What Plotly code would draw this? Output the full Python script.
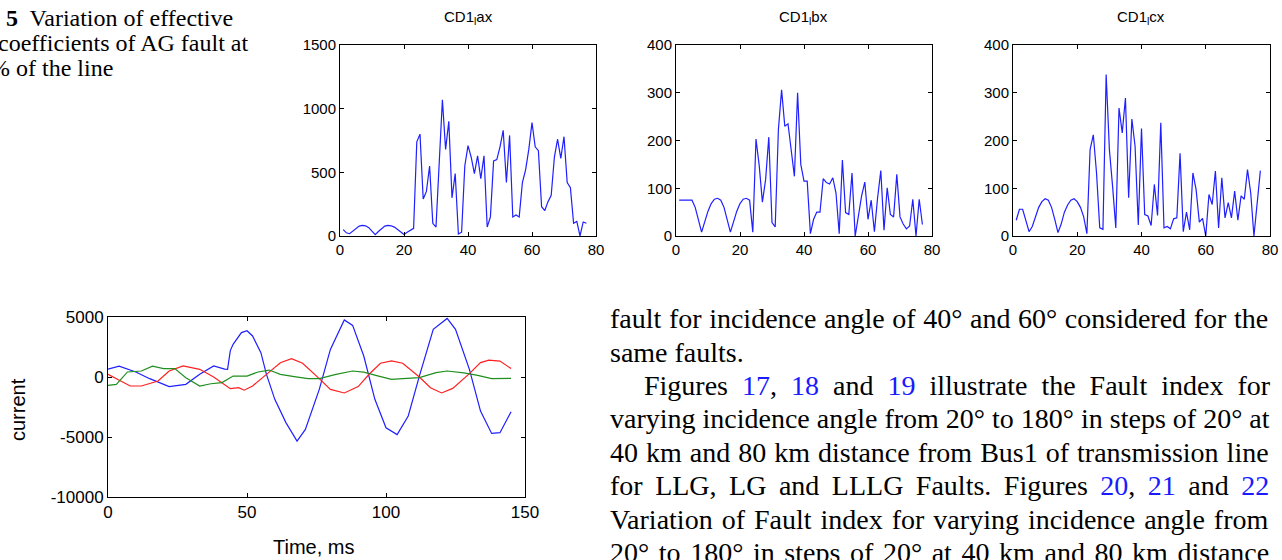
import plotly.graph_objects as go

# ---------------- data ----------------
samples = list(range(1, 78))

cd1_ax = [50, 25, 18, 40, 62, 78, 84, 80, 65, 40, 10, 35, 60, 78, 84, 80, 70, 50, 28, 12,
          30, 45, 60, 740, 800, 290, 350, 550, 100, 70, 560, 1070, 680, 900, 300, 490, 15, 30,
          550, 710, 620, 490, 630, 450, 630, 70, 150, 590, 600, 700, 830, 420, 790, 150, 165,
          150, 420, 520, 680, 890, 700, 670, 230, 200, 270, 320, 620, 760, 610, 780, 420, 380,
          100, 115, 0, 110, 100]

cd1_bx = [75, 75, 75, 75, 75, 60, 35, 8, 30, 52, 68, 77, 79, 75, 60, 35, 8, 30, 52, 68,
          77, 79, 75, 8, 203, 148, 71, 118, 207, 28, 19, 223, 306, 230, 235, 180, 125, 300,
          150, 115, 115, 5, 35, 50, 50, 120, 112, 109, 122, 90, 5, 159, 49, 45, 132, 0, 45,
          84, 113, 35, 75, 9, 80, 137, 12, 101, 45, 40, 129, 40, 25, 15, 21, 77, 0, 77, 24]

cd1_cx = [33, 56, 56, 35, 9, 20, 40, 60, 72, 78, 75, 60, 35, 7, 25, 50, 65, 75, 78, 72,
          60, 40, 5, 181, 212, 132, 17, 14, 338, 181, 104, 17, 268, 216, 289, 80, 245, 188,
          23, 225, 45, 42, 22, 108, 43, 237, 17, 20, 15, 36, 38, 173, 9, 50, 13, 132, 97, 29,
          37, 0, 87, 66, 136, 17, 122, 38, 70, 38, 94, 33, 84, 77, 139, 90, 0, 70, 137]

t_a = [0, 4, 10, 15, 22, 28, 33, 38, 42, 43, 44, 45, 48, 50, 52, 55, 57, 60, 64, 68, 71, 76,
       80, 85, 88, 92, 96, 100, 104, 108, 112, 117, 122, 125, 130, 134, 138, 141, 145]
i_a = [650, 900, 420, -140, -800, -610, 220, 920, 650, 640, 2200, 2720, 3700, 3850, 3420,
       2030, 220, -1860, -3800, -5340, -4370, -1030, 2300, 4750, 4300, 1750, -1860, -4230,
       -4800, -3250, 80, 3970, 4880, 3970, 640, -2840, -4700, -4640, -2890]

t_b = [0, 3, 8, 12, 18, 22, 27, 33, 38, 44, 47, 49, 52, 57, 62, 66, 70, 76, 80, 85, 90, 94,
       98, 102, 106, 112, 116, 120, 124, 130, 134, 137, 141, 145]
i_b = [220, -140, -750, -750, -330, 500, 920, 640, 0, -970, -890, -1100, -750, 220, 1190,
       1530, 1140, -140, -1030, -1330, -800, 250, 1150, 1350, 1150, 0, -900, -1330, -950,
       280, 1200, 1400, 1330, 700]

t_c = [0, 3, 7, 12, 16, 20, 24, 28, 33, 37, 41, 45, 50, 54, 58, 62, 67, 72, 76, 82, 88, 92,
       97, 102, 106, 112, 118, 122, 128, 133, 138, 145]
i_c = [-700, -610, 420, 500, 900, 700, 700, -55, -750, -560, -470, 80, 80, 420, 580, 220,
       30, -140, -140, 220, 500, 400, 100, -190, -140, -50, 360, 500, 350, 140, -140, -110]

top_titles = ["CD1<sub>l</sub>ax", "CD1<sub>l</sub>bx", "CD1<sub>l</sub>cx"]
top_xticks = [0, 20, 40, 60, 80]
yticks_a = [0, 500, 1000, 1500]
yticks_bc = [0, 100, 200, 300, 400]
bottom_xticks = [0, 50, 100, 150]
bottom_yticks = [-10000, -5000, 0, 5000]
bottom_yticklabels = ["-10000", "-5000", "0", "5000"]

# ---------------- layout helpers ----------------
W, H = 1282, 560
def px(x):
    return x / W
def py(y):
    return 1 - y / H

NARROW = "Liberation Sans Narrow, Arial Narrow, Liberation Sans, Arial, sans-serif"
SANS = "Liberation Sans, Arial, sans-serif"
SERIF = "Liberation Serif, Times New Roman, serif"
BLUE = "#1f1fff"

fig = go.Figure()

tops = [(cd1_ax, 340, 596, [0, 1500], yticks_a),
        (cd1_bx, 676, 932, [0, 400], yticks_bc),
        (cd1_cx, 1013, 1270, [0, 400], yticks_bc)]

axis_common = dict(showline=True, linecolor="black", linewidth=1, mirror="ticks",
                   ticks="inside", ticklen=4, tickcolor="black", showgrid=False,
                   zeroline=False)

layout = dict(width=W, height=H, margin=dict(l=0, r=0, t=0, b=0, autoexpand=False),
              paper_bgcolor="white", plot_bgcolor="white", showlegend=False)

for k, (vals, x0, x1, yr, yt) in enumerate(tops):
    n = k + 1
    xa = "x" if n == 1 else f"x{n}"
    ya = "y" if n == 1 else f"y{n}"
    fig.add_trace(go.Scatter(x=samples, y=vals, xaxis=xa, yaxis=ya, mode="lines",
                             line=dict(color=BLUE, width=1.2)))
    layout["xaxis" if n == 1 else f"xaxis{n}"] = dict(
        domain=[px(x0), px(x1)], anchor=ya, range=[0, 80], tickvals=top_xticks,
        tickfont=dict(family=NARROW, size=15, color="black"), **axis_common)
    layout["yaxis" if n == 1 else f"yaxis{n}"] = dict(
        domain=[py(236), py(45)], anchor=xa, range=yr, tickvals=yt,
        tickfont=dict(family=NARROW, size=15, color="black"), **axis_common)

# bottom plot
for t, v, c in [(t_a, i_a, "#1f1fff"), (t_b, i_b, "#ff1f1f"), (t_c, i_c, "#1f8f1f")]:
    fig.add_trace(go.Scatter(x=t, y=v, xaxis="x4", yaxis="y4", mode="lines",
                             line=dict(color=c, width=1.2)))
layout["xaxis4"] = dict(domain=[px(108), px(525)], anchor="y4", range=[0, 150],
                        tickvals=bottom_xticks,
                        tickfont=dict(family=SANS, size=17, color="black"), **axis_common)
layout["yaxis4"] = dict(domain=[py(497), py(317)], anchor="x4", range=[-10000, 5000],
                        tickvals=bottom_yticks, ticktext=bottom_yticklabels,
                        tickfont=dict(family=SANS, size=17, color="black"), **axis_common)

annotations = []
centers = [468, 804, 1141]
for title, cx in zip(top_titles, centers):
    annotations.append(dict(text=title, x=px(cx), y=py(17), xref="paper", yref="paper",
                            showarrow=False, xanchor="center", yanchor="middle",
                            font=dict(family=NARROW, size=15, color="black")))

annotations.append(dict(text="current", x=px(18), y=py(410), xref="paper", yref="paper",
                        showarrow=False, textangle=-90, xanchor="center", yanchor="middle",
                        font=dict(family=SANS, size=20, color="black")))
annotations.append(dict(text="Time, ms", x=px(313), y=py(547), xref="paper", yref="paper",
                        showarrow=False, xanchor="center", yanchor="middle",
                        font=dict(family=SANS, size=20, color="black")))

caption = [("<b>5</b>  Variation of effective", 4, 18),
           ("coefficients of AG fault at", -4, 43),
           ("% of the line", -12, 68)]
for txt, x, y in caption:
    annotations.append(dict(text=txt, x=px(x), y=py(y), xref="paper", yref="paper",
                            showarrow=False, xanchor="left", yanchor="middle",
                            font=dict(family=SERIF, size=24, color="black")))

LINK = "color:#1a1aff"

def seg(parts, ws):
    out = []
    for s, is_link in parts:
        style = f"word-spacing:{ws}px" + (";" + LINK if is_link else "")
        out.append(f'<span style="{style}">{s}</span>')
    return "".join(out)

# (segments, left x, centre y, extra word spacing)
body = [
    ([("fault for incidence angle of 40° and 60° considered for the", False)], 608, 318, 0.6),
    ([("same faults.", False)], 608, 352, 0),
    ([("Figures ", False), ("17", True), (", ", False), ("18", True), (" and ", False),
      ("19", True), (" illustrate the Fault index for", False)], 642, 385, 7.0),
    ([("varying incidence angle from 20° to 180° in steps of 20° at", False)], 608, 418, 0),
    ([("40 km and 80 km distance from Bus1 of transmission line", False)], 608, 452, 1.0),
    ([("for LLG, LG and LLLG Faults. Figures ", False), ("20", True), (", ", False),
      ("21", True), (" and ", False), ("22", True)], 608, 485, 5.5),
    ([("Variation of Fault index for varying incidence angle from", False)], 608, 519, 2.0),
    ([("20° to 180° in steps of 20° at 40 km and 80 km distance", False)], 608, 552, 2.6),
]
for parts, x, y, ws in body:
    annotations.append(dict(text=seg(parts, ws), x=px(x), y=py(y), xref="paper", yref="paper",
                            showarrow=False, xanchor="left", yanchor="middle",
                            font=dict(family=SERIF, size=28, color="black")))

layout["annotations"] = annotations
fig.update_layout(**layout)
fig.write_html("out.html", config={"displayModeBar": False},
               post_script="document.body.style.margin='0';document.body.style.padding='0';")
